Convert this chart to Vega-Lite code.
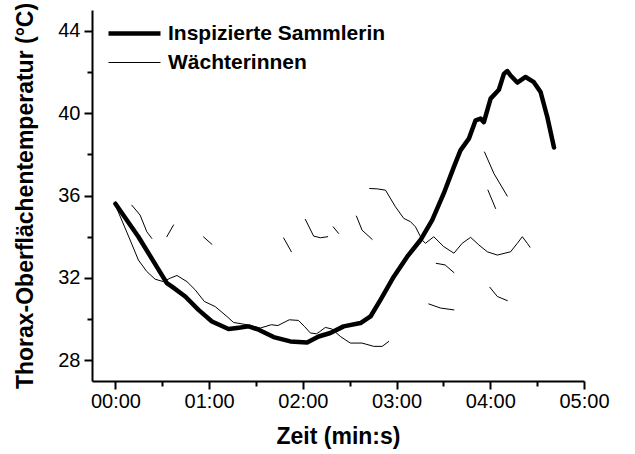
{
  "$schema": "https://vega.github.io/schema/vega-lite/v6.json",
  "width": 492,
  "height": 371,
  "autosize": {"type": "none"},
  "padding": {"left": 92, "top": 10, "right": 51, "bottom": 73},
  "background": "white",
  "config": {
    "view": {"stroke": null},
    "font": "Liberation Sans",
    "axis": {
      "domainColor": "black", "domainWidth": 2, "tickColor": "black", "tickWidth": 2,
      "labelColor": "black", "labelFont": "Liberation Sans", "labelFontSize": 20,
      "titleFont": "Liberation Sans", "titleFontWeight": "bold", "titleFontSize": 23, "titleColor": "black",
      "grid": false
    }
  },
  "data": {"values": [
    {"s":"Inspizierte Sammlerin","g":"S","t":0,"y":35.6},
    {"s":"Inspizierte Sammlerin","g":"S","t":14.7,"y":34.0},
    {"s":"Inspizierte Sammlerin","g":"S","t":32.9,"y":31.75},
    {"s":"Inspizierte Sammlerin","g":"S","t":36.2,"y":31.58},
    {"s":"Inspizierte Sammlerin","g":"S","t":44.7,"y":31.1},
    {"s":"Inspizierte Sammlerin","g":"S","t":53.2,"y":30.45},
    {"s":"Inspizierte Sammlerin","g":"S","t":61.8,"y":29.89},
    {"s":"Inspizierte Sammlerin","g":"S","t":72.4,"y":29.52},
    {"s":"Inspizierte Sammlerin","g":"S","t":77.8,"y":29.57},
    {"s":"Inspizierte Sammlerin","g":"S","t":85.3,"y":29.65},
    {"s":"Inspizierte Sammlerin","g":"S","t":91.7,"y":29.49},
    {"s":"Inspizierte Sammlerin","g":"S","t":101.3,"y":29.13},
    {"s":"Inspizierte Sammlerin","g":"S","t":112,"y":28.92},
    {"s":"Inspizierte Sammlerin","g":"S","t":122.7,"y":28.87},
    {"s":"Inspizierte Sammlerin","g":"S","t":130.1,"y":29.16},
    {"s":"Inspizierte Sammlerin","g":"S","t":137.6,"y":29.33},
    {"s":"Inspizierte Sammlerin","g":"S","t":146.1,"y":29.65},
    {"s":"Inspizierte Sammlerin","g":"S","t":156.9,"y":29.81},
    {"s":"Inspizierte Sammlerin","g":"S","t":163.3,"y":30.13},
    {"s":"Inspizierte Sammlerin","g":"S","t":169.7,"y":30.94},
    {"s":"Inspizierte Sammlerin","g":"S","t":178.2,"y":32.06},
    {"s":"Inspizierte Sammlerin","g":"S","t":186.8,"y":33.03},
    {"s":"Inspizierte Sammlerin","g":"S","t":195.3,"y":33.84},
    {"s":"Inspizierte Sammlerin","g":"S","t":202.8,"y":34.81},
    {"s":"Inspizierte Sammlerin","g":"S","t":210.2,"y":36.1},
    {"s":"Inspizierte Sammlerin","g":"S","t":216.7,"y":37.39},
    {"s":"Inspizierte Sammlerin","g":"S","t":220.9,"y":38.19},
    {"s":"Inspizierte Sammlerin","g":"S","t":226.3,"y":38.76},
    {"s":"Inspizierte Sammlerin","g":"S","t":230.6,"y":39.65},
    {"s":"Inspizierte Sammlerin","g":"S","t":233.8,"y":39.73},
    {"s":"Inspizierte Sammlerin","g":"S","t":235.9,"y":39.56},
    {"s":"Inspizierte Sammlerin","g":"S","t":240.2,"y":40.7},
    {"s":"Inspizierte Sammlerin","g":"S","t":245.5,"y":41.13},
    {"s":"Inspizierte Sammlerin","g":"S","t":248.7,"y":41.9},
    {"s":"Inspizierte Sammlerin","g":"S","t":250.9,"y":42.04},
    {"s":"Inspizierte Sammlerin","g":"S","t":253,"y":41.82},
    {"s":"Inspizierte Sammlerin","g":"S","t":257.3,"y":41.48},
    {"s":"Inspizierte Sammlerin","g":"S","t":262.6,"y":41.75},
    {"s":"Inspizierte Sammlerin","g":"S","t":267.9,"y":41.5},
    {"s":"Inspizierte Sammlerin","g":"S","t":272.2,"y":41.02},
    {"s":"Inspizierte Sammlerin","g":"S","t":276.5,"y":39.81},
    {"s":"Inspizierte Sammlerin","g":"S","t":280.8,"y":38.33},

    {"s":"Wächterinnen","g":"W1","t":0.9,"y":35.37},
    {"s":"Wächterinnen","g":"W1","t":9.4,"y":33.84},
    {"s":"Wächterinnen","g":"W1","t":14.7,"y":32.87},
    {"s":"Wächterinnen","g":"W1","t":20.1,"y":32.31},
    {"s":"Wächterinnen","g":"W1","t":25.4,"y":31.94},
    {"s":"Wächterinnen","g":"W1","t":30.8,"y":31.82},
    {"s":"Wächterinnen","g":"W1","t":35.1,"y":31.99},
    {"s":"Wächterinnen","g":"W1","t":39.4,"y":32.12},
    {"s":"Wächterinnen","g":"W1","t":45.8,"y":31.82},
    {"s":"Wächterinnen","g":"W1","t":51.1,"y":31.42},
    {"s":"Wächterinnen","g":"W1","t":56.9,"y":30.86},
    {"s":"Wächterinnen","g":"W1","t":63.9,"y":30.61},
    {"s":"Wächterinnen","g":"W1","t":71.4,"y":30.13},
    {"s":"Wächterinnen","g":"W1","t":75.6,"y":29.84},
    {"s":"Wächterinnen","g":"W1","t":84.2,"y":29.73},
    {"s":"Wächterinnen","g":"W1","t":92.8,"y":29.57},
    {"s":"Wächterinnen","g":"W1","t":99.8,"y":29.73},
    {"s":"Wächterinnen","g":"W1","t":104,"y":29.69},
    {"s":"Wächterinnen","g":"W1","t":111.3,"y":29.97},
    {"s":"Wächterinnen","g":"W1","t":117.1,"y":29.94},
    {"s":"Wächterinnen","g":"W1","t":121,"y":29.65},
    {"s":"Wächterinnen","g":"W1","t":124.8,"y":29.33},
    {"s":"Wächterinnen","g":"W1","t":128.7,"y":29.29},
    {"s":"Wächterinnen","g":"W1","t":130.9,"y":29.4},
    {"s":"Wächterinnen","g":"W1","t":134.4,"y":29.6},
    {"s":"Wächterinnen","g":"W1","t":138.7,"y":29.52},
    {"s":"Wächterinnen","g":"W1","t":144,"y":29.16},
    {"s":"Wächterinnen","g":"W1","t":150.4,"y":28.84},
    {"s":"Wächterinnen","g":"W1","t":157.9,"y":28.84},
    {"s":"Wächterinnen","g":"W1","t":165.4,"y":28.68},
    {"s":"Wächterinnen","g":"W1","t":170.8,"y":28.68},
    {"s":"Wächterinnen","g":"W1","t":175,"y":28.92},

    {"s":"Wächterinnen","g":"A","t":10.5,"y":35.53},
    {"s":"Wächterinnen","g":"A","t":15.8,"y":35.05},
    {"s":"Wächterinnen","g":"A","t":20.1,"y":34.24},
    {"s":"Wächterinnen","g":"A","t":23.3,"y":33.92},
    {"s":"Wächterinnen","g":"B","t":32.9,"y":34.0},
    {"s":"Wächterinnen","g":"B","t":37.2,"y":34.57},
    {"s":"Wächterinnen","g":"C","t":56.4,"y":33.99},
    {"s":"Wächterinnen","g":"C","t":61.8,"y":33.63},
    {"s":"Wächterinnen","g":"D","t":107.7,"y":33.94},
    {"s":"Wächterinnen","g":"D","t":112,"y":33.36},
    {"s":"Wächterinnen","g":"D","t":112.6,"y":33.27},
    {"s":"Wächterinnen","g":"E","t":121.6,"y":34.84},
    {"s":"Wächterinnen","g":"E","t":126.9,"y":34.03},
    {"s":"Wächterinnen","g":"E","t":131.2,"y":33.95},
    {"s":"Wächterinnen","g":"E","t":135.9,"y":34.0},
    {"s":"Wächterinnen","g":"F","t":139.4,"y":34.48},
    {"s":"Wächterinnen","g":"F","t":142.9,"y":34.16},
    {"s":"Wächterinnen","g":"G","t":154.3,"y":35.0},
    {"s":"Wächterinnen","g":"G","t":157.9,"y":34.32},
    {"s":"Wächterinnen","g":"G","t":164.4,"y":33.87},

    {"s":"Wächterinnen","g":"H","t":162.8,"y":36.34},
    {"s":"Wächterinnen","g":"H","t":167.7,"y":36.32},
    {"s":"Wächterinnen","g":"H","t":172.9,"y":36.26},
    {"s":"Wächterinnen","g":"H","t":179.3,"y":35.45},
    {"s":"Wächterinnen","g":"H","t":184.6,"y":34.89},
    {"s":"Wächterinnen","g":"H","t":188.9,"y":34.73},
    {"s":"Wächterinnen","g":"H","t":192.1,"y":34.48},
    {"s":"Wächterinnen","g":"H","t":196.4,"y":33.84},
    {"s":"Wächterinnen","g":"H","t":198.5,"y":33.68},
    {"s":"Wächterinnen","g":"H","t":203.8,"y":34.0},
    {"s":"Wächterinnen","g":"H","t":210.2,"y":33.52},
    {"s":"Wächterinnen","g":"H","t":216.7,"y":33.2},
    {"s":"Wächterinnen","g":"H","t":222,"y":33.68},
    {"s":"Wächterinnen","g":"H","t":227.4,"y":33.97},
    {"s":"Wächterinnen","g":"H","t":232.7,"y":33.6},
    {"s":"Wächterinnen","g":"H","t":238.1,"y":33.27},
    {"s":"Wächterinnen","g":"H","t":244.5,"y":33.11},
    {"s":"Wächterinnen","g":"H","t":253,"y":33.27},
    {"s":"Wächterinnen","g":"H","t":257.3,"y":33.68},
    {"s":"Wächterinnen","g":"H","t":260.5,"y":34.0},
    {"s":"Wächterinnen","g":"H","t":263.7,"y":33.68},
    {"s":"Wächterinnen","g":"H","t":265.4,"y":33.49},

    {"s":"Wächterinnen","g":"I","t":205.4,"y":32.71},
    {"s":"Wächterinnen","g":"I","t":211.1,"y":32.63},
    {"s":"Wächterinnen","g":"I","t":216.7,"y":32.26},
    {"s":"Wächterinnen","g":"J","t":200.6,"y":30.74},
    {"s":"Wächterinnen","g":"J","t":208.1,"y":30.54},
    {"s":"Wächterinnen","g":"J","t":216.7,"y":30.45},
    {"s":"Wächterinnen","g":"K","t":239.7,"y":31.55},
    {"s":"Wächterinnen","g":"K","t":244.5,"y":31.1},
    {"s":"Wächterinnen","g":"K","t":250.9,"y":30.9},
    {"s":"Wächterinnen","g":"L","t":236.3,"y":38.11},
    {"s":"Wächterinnen","g":"L","t":242.3,"y":37.07},
    {"s":"Wächterinnen","g":"L","t":250.9,"y":35.97},
    {"s":"Wächterinnen","g":"M","t":238.5,"y":36.26},
    {"s":"Wächterinnen","g":"M","t":243.4,"y":35.37}
  ]},
  "mark": {"type": "line", "color": "black", "strokeCap": "round", "strokeJoin": "round"},
  "encoding": {
    "x": {
      "field": "t", "type": "quantitative",
      "scale": {"domain": [-15, 300], "nice": false, "zero": false},
      "axis": {
        "title": "Zeit (min:s)",
        "values": [0, 30, 60, 90, 120, 150, 180, 210, 240, 270, 300],
        "labelExpr": "datum.value % 60 == 0 ? '0' + floor(datum.value / 60) + ':00' : ''",
        "tickSize": {"condition": {"test": "datum.value % 60 != 0", "value": 5}, "value": 8},
        "labelPadding": 2,
        "titlePadding": 14,
        "labelFlush": false
      }
    },
    "y": {
      "field": "y", "type": "quantitative",
      "scale": {"domain": [27, 45], "nice": false, "zero": false},
      "axis": {
        "title": "Thorax-Oberflächentemperatur (°C)",
        "values": [28, 30, 32, 34, 36, 38, 40, 42, 44],
        "labelExpr": "datum.value % 4 == 0 ? datum.value : ''",
        "tickSize": {"condition": {"test": "datum.value % 4 != 0", "value": 5}, "value": 8},
        "labelPadding": 4,
        "titlePadding": 20,
        "labelFlush": false
      }
    },
    "detail": {"field": "g"},
    "strokeWidth": {
      "field": "s", "type": "ordinal",
      "scale": {"domain": ["Inspizierte Sammlerin", "Wächterinnen"], "range": [4.5, 1]},
      "legend": {
        "title": null,
        "orient": "none",
        "legendX": 27,
        "legendY": 8,
        "symbolType": "M-2,0H2",
        "symbolSize": 676,
        "symbolStrokeColor": "black",
        "symbolFillColor": "transparent",
        "labelFont": "Liberation Sans",
        "labelFontWeight": "bold",
        "labelFontSize": 21,
        "labelLimit": 0,
        "labelColor": "black",
        "labelOffset": 18,
        "rowPadding": 5
      }
    }
  }
}
